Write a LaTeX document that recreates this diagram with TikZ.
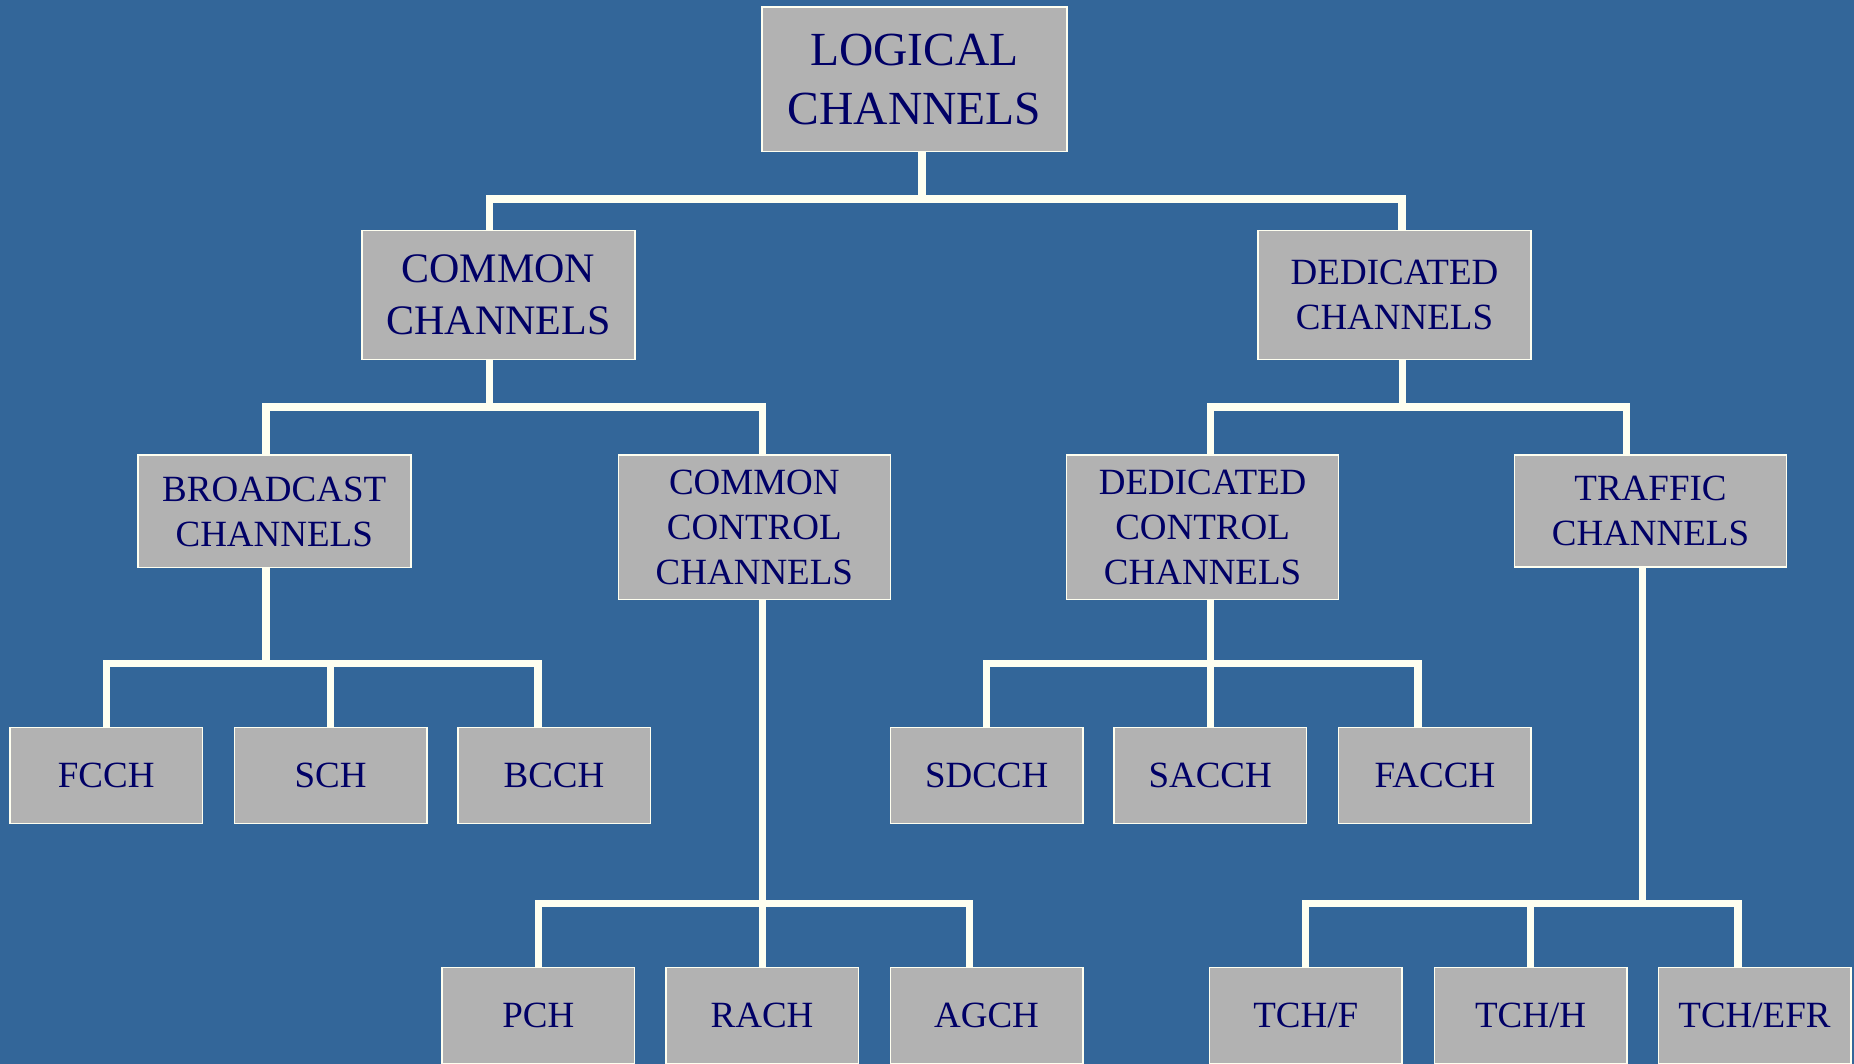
\documentclass[tikz,border=0pt]{standalone}
\usepackage{fontspec}
\setmainfont{Liberation Serif}
\definecolor{bg}{HTML}{336699}
\definecolor{boxgray}{HTML}{B2B2B2}
\definecolor{navy}{HTML}{000066}
\definecolor{cream}{HTML}{FFFFF0}
\begin{document}
\begin{tikzpicture}[x=1pt,y=-1pt,
  chan/.style={draw=cream, line width=1.5pt, fill=boxgray, text=navy,
    inner sep=0pt, align=center, text depth=-5pt, font=\fontsize{37}{45}\selectfont},
  leaf/.style={chan, minimum width=192.5pt, minimum height=96pt},
  link/.style={draw=cream, line width=7.2pt}]

% background and page size
\fill[bg] (0,0) rectangle (1854,1064);
\useasboundingbox (0,0) rectangle (1854,1064);

% top level
\node[chan, minimum width=305pt, minimum height=144.5pt,
      font=\fontsize{47.5}{58.7}\selectfont] (logical) at (914.5,79.2) {LOGICAL\\CHANNELS};

% second level
\node[chan, minimum width=273pt, minimum height=129pt,
      font=\fontsize{42}{52}\selectfont] (common) at (498.5,295) {COMMON\\CHANNELS};
\node[chan, minimum width=273pt, minimum height=129pt] (dedicated) at (1394.5,295) {DEDICATED\\CHANNELS};

% third level
\node[chan, minimum width=273pt, minimum height=112.7pt] (broadcast) at (274.25,511.35) {BROADCAST\\CHANNELS};
\node[chan, minimum width=272pt, minimum height=144.5pt] (ccch) at (754.35,527.25) {COMMON\\CONTROL\\CHANNELS};
\node[chan, minimum width=272pt, minimum height=144.5pt] (dcch) at (1202.6,527.25) {DEDICATED\\CONTROL\\CHANNELS};
\node[chan, minimum width=272pt, minimum height=112pt] (traffic) at (1650.5,510.85) {TRAFFIC\\CHANNELS};

% leaves, upper row
\node[leaf] (fcch)  at (106.2,775.3)  {FCCH};
\node[leaf] (sch)   at (330.5,775.3)  {SCH};
\node[leaf] (bcch)  at (554,775.3)    {BCCH};
\node[leaf] (sdcch) at (986.7,775.3)  {SDCCH};
\node[leaf] (sacch) at (1210.2,775.3) {SACCH};
\node[leaf] (facch) at (1434.9,775.3) {FACCH};

% leaves, lower row
\node[leaf] (pch)    at (538.3,1015.3)  {PCH};
\node[leaf] (rach)   at (762,1015.3)    {RACH};
\node[leaf] (agch)   at (986.5,1015.3)  {AGCH};
\node[leaf] (tchf)   at (1305.8,1015.3) {TCH/F};
\node[leaf] (tchh)   at (1530.6,1015.3) {TCH/H};
\node[leaf] (tchefr) at (1754.5,1015.3) {TCH/EFR};

% bus junctions
\coordinate (busA) at (922,199);
\coordinate (busB) at (489.5,407);
\coordinate (busC) at (1402.7,407);
\coordinate (busD) at (266,663.3);
\coordinate (busE) at (762.6,903.3);
\coordinate (busF) at (1210.7,663.3);
\coordinate (busG) at (1642.5,903.3);

% logical -> common / dedicated
\draw[link] (logical.south -| busA) -- (busA);
\draw[link] ([xshift=-9pt]common.north) |- (busA);
\draw[link] ([xshift=7.5pt]dedicated.north) |- (busA);

% common -> broadcast / common control
\draw[link] (common.south -| busB) -- (busB);
\draw[link] ([xshift=-8.25pt]broadcast.north) |- (busB);
\draw[link] ([xshift=8.25pt]ccch.north) |- (busB);

% dedicated -> dedicated control / traffic
\draw[link] (dedicated.south -| busC) -- (busC);
\draw[link] ([xshift=8.1pt]dcch.north) |- (busC);
\draw[link] ([xshift=-23.8pt]traffic.north) |- (busC);

% broadcast -> FCCH, SCH, BCCH
\draw[link] (broadcast.south -| busD) -- (busD);
\draw[link] (fcch.north) |- (busD);
\draw[link] (sch.north) |- (busD);
\draw[link] ([xshift=-16pt]bcch.north) |- (busD);

% common control -> PCH, RACH, AGCH
\draw[link] (ccch.south -| busE) -- (busE);
\draw[link] (pch.north) |- (busE);
\draw[link] (rach.north -| busE) -- (busE);
\draw[link] ([xshift=-17pt]agch.north) |- (busE);

% dedicated control -> SDCCH, SACCH, FACCH
\draw[link] (dcch.south -| busF) -- (busF);
\draw[link] (sdcch.north) |- (busF);
\draw[link] (sacch.north -| busF) -- (busF);
\draw[link] ([xshift=-17pt]facch.north) |- (busF);

% traffic -> TCH/F, TCH/H, TCH/EFR
\draw[link] (traffic.south -| busG) -- (busG);
\draw[link] (tchf.north) |- (busG);
\draw[link] (tchh.north) |- (busG);
\draw[link] ([xshift=-16.5pt]tchefr.north) |- (busG);

\end{tikzpicture}
\end{document}
